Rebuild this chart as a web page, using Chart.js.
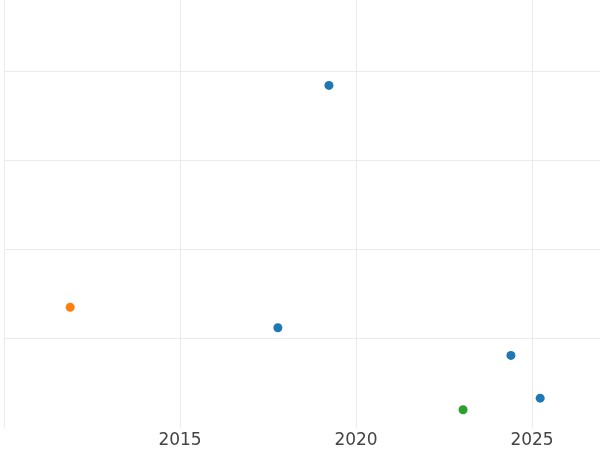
<!DOCTYPE html>
<html>
<head>
<meta charset="utf-8">
<script src="https://cdn.jsdelivr.net/npm/chart.js@4/dist/chart.umd.min.js"></script>
<style>
  html, body { margin: 0; padding: 0; background: #fff; }
  canvas { display: block; }
</style>
</head>
<body>
<canvas id="chart" width="600" height="450"></canvas>
<script>
// points per group: year (x) and value (y, arbitrary units; axis labels hidden)
const blueX = [2019.23, 2017.78, 2024.40, 2025.23];
const blueY = [3.84, 1.12, 0.81, 0.33];
const orangeX = [2011.88];
const orangeY = [1.35];
const greenX = [2023.04];
const greenY = [0.20];

const xTicks = [2010, 2015, 2020, 2025];
const yTicks = [1, 2, 3, 4];

function pts(xs, ys) {
  return xs.map((x, i) => ({ x, y: ys[i] }));
}

function ds(xs, ys, color) {
  return {
    data: pts(xs, ys),
    backgroundColor: color,
    borderWidth: 0,
    pointRadius: 4.5,
    pointHoverRadius: 4.5,
  };
}

new Chart(document.getElementById("chart"), {
  type: "scatter",
  data: {
    datasets: [
      ds(blueX, blueY, "#1f77b4"),
      ds(orangeX, orangeY, "#ff7f0e"),
      ds(greenX, greenY, "#2ca02c"),
    ],
  },
  options: {
    responsive: false,
    animation: false,
    layout: { autoPadding: false, padding: { left: 4, top: 0, right: 0, bottom: -4 } },
    plugins: { legend: { display: false }, tooltip: { enabled: false } },
    scales: {
      x: {
        type: "linear",
        min: 2010,
        max: 2026.93,
        afterBuildTicks: (s) => { s.ticks = xTicks.map((v) => ({ value: v })); },
        ticks: {
          padding: 3,
          color: "#444",
          font: { family: "DejaVu Sans", size: 17 },
          callback: (v) => (v === 2010 ? "" : String(v)),
          maxRotation: 0,
        },
        grid: { color: "#ebebeb", drawTicks: false, lineWidth: 1 },
        border: { display: false },
      },
      y: {
        min: 0,
        max: 4.798,
        afterBuildTicks: (s) => { s.ticks = yTicks.map((v) => ({ value: v })); },
        ticks: { display: false },
        grid: { color: "#ebebeb", drawTicks: false, lineWidth: 1 },
        border: { display: false },
      },
    },
  },
});
</script>
</body>
</html>
